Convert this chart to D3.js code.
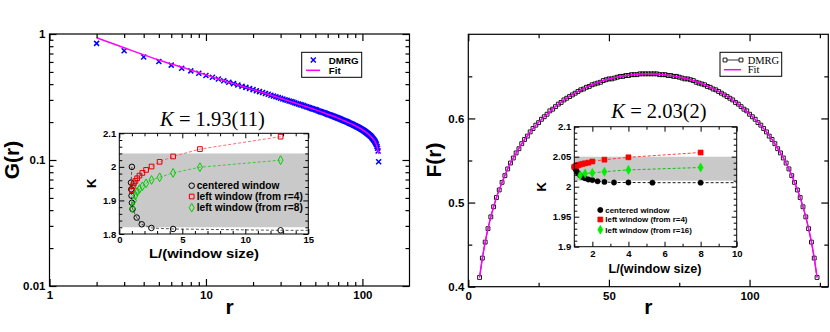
<!DOCTYPE html>
<html>
<head>
<meta charset="utf-8">
<script src="https://cdn.jsdelivr.net/npm/d3@7"></script>
<style>
  body { margin: 0; background: #fff; }
  svg { display: block; }
</style>
</head>
<body>
<div id="fig"></div>
<script>
// ---- Datos panel izquierdo: G(r) log-log ----
const rG = d3.range(2, 128)
const dmrgG = [0.843, 0.737, 0.656, 0.605, 0.566, 0.535, 0.510, 0.488, 0.469, 0.453,
  0.439, 0.426, 0.414, 0.404, 0.394, 0.385, 0.377, 0.369, 0.362, 0.355,
  0.349, 0.343, 0.337, 0.332, 0.327, 0.322, 0.318, 0.313, 0.309, 0.305,
  0.301, 0.298, 0.294, 0.291, 0.288, 0.284, 0.281, 0.278, 0.275, 0.273,
  0.270, 0.267, 0.265, 0.262, 0.260, 0.257, 0.255, 0.253, 0.251, 0.249,
  0.246, 0.244, 0.242, 0.240, 0.238, 0.237, 0.235, 0.233, 0.231, 0.229,
  0.228, 0.226, 0.224, 0.223, 0.221, 0.219, 0.218, 0.216, 0.215, 0.213,
  0.212, 0.210, 0.209, 0.207, 0.206, 0.204, 0.203, 0.202, 0.200, 0.199,
  0.197, 0.196, 0.195, 0.193, 0.192, 0.191, 0.189, 0.188, 0.187, 0.185,
  0.184, 0.183, 0.182, 0.180, 0.179, 0.178, 0.176, 0.175, 0.174, 0.172,
  0.171, 0.170, 0.168, 0.167, 0.165, 0.164, 0.162, 0.161, 0.159, 0.158,
  0.156, 0.155, 0.153, 0.151, 0.149, 0.147, 0.145, 0.143, 0.141, 0.138,
  0.135, 0.132, 0.128, 0.124, 0.118, 0.097]
const rFitG = [2, 3, 4, 5, 6, 7, 8, 10, 12, 15, 20, 25, 30, 40, 50, 60, 70, 80, 90, 100,
  105, 110, 115, 118, 120, 122, 124, 125, 126, 127]
const fitG = [0.935, 0.778, 0.683, 0.622, 0.578, 0.547, 0.518, 0.474, 0.440, 0.404,
  0.362, 0.332, 0.309, 0.275, 0.251, 0.231, 0.215, 0.200, 0.187, 0.174,
  0.167, 0.159, 0.151, 0.145, 0.141, 0.135, 0.128, 0.124, 0.118, 0.112]

// ---- Datos panel derecho: F(r) ----
const rF = d3.range(4, 125)
const dmrgF = [0.411, 0.434, 0.453, 0.469, 0.483, 0.495, 0.506, 0.515, 0.524, 0.532,
  0.540, 0.547, 0.553, 0.559, 0.564, 0.570, 0.575, 0.579, 0.584, 0.588,
  0.592, 0.595, 0.599, 0.602, 0.605, 0.609, 0.611, 0.614, 0.617, 0.619,
  0.622, 0.624, 0.626, 0.628, 0.630, 0.632, 0.634, 0.635, 0.637, 0.638,
  0.640, 0.641, 0.642, 0.643, 0.645, 0.646, 0.647, 0.647, 0.648, 0.649,
  0.650, 0.650, 0.651, 0.651, 0.652, 0.652, 0.652, 0.653, 0.653, 0.653,
  0.653, 0.653, 0.653, 0.653, 0.652, 0.652, 0.652, 0.651, 0.651, 0.650,
  0.650, 0.649, 0.648, 0.647, 0.647, 0.646, 0.645, 0.643, 0.642, 0.641,
  0.640, 0.638, 0.637, 0.635, 0.634, 0.632, 0.630, 0.628, 0.626, 0.624,
  0.622, 0.619, 0.617, 0.614, 0.611, 0.609, 0.605, 0.602, 0.599, 0.595,
  0.592, 0.588, 0.584, 0.579, 0.575, 0.570, 0.564, 0.559, 0.553, 0.547,
  0.540, 0.532, 0.524, 0.515, 0.506, 0.495, 0.483, 0.469, 0.453, 0.434,
  0.411]
const rFitF = [4, 5, 6, 7, 8, 10, 12, 14, 16, 20, 24, 28, 32, 40, 48, 56, 64, 72, 80, 88,
  96, 100, 104, 108, 112, 114, 116, 118, 120, 121, 122, 123, 124]
const fitF = [0.411, 0.434, 0.453, 0.469, 0.483, 0.506, 0.524, 0.540, 0.553, 0.575,
  0.592, 0.605, 0.617, 0.634, 0.645, 0.651, 0.653, 0.651, 0.645, 0.634,
  0.617, 0.605, 0.592, 0.575, 0.553, 0.540, 0.524, 0.506, 0.483, 0.469,
  0.453, 0.434, 0.411]

// ---- Recuadro izquierdo: K vs L/(window size) ----
const xCentL = [1.0, 0.93, 0.95, 0.97, 1.0, 1.05, 1.38, 1.78, 2.55, 4.27, 12.8]
const kCentL = [2.000, 1.953, 1.933, 1.914, 1.893, 1.874, 1.849, 1.829, 1.818, 1.815, 1.811]
const xLeft4L = [12.8, 6.4, 4.27, 3.2, 2.56, 2.13, 1.83, 1.6, 1.42, 1.28, 1.16, 1.07, 1.0]
const kLeft4L = [2.090, 2.053, 2.031, 2.015, 2.001, 1.991, 1.982, 1.974, 1.966, 1.958, 1.951, 1.942, 1.930]
const xLeft8L = [12.8, 6.4, 4.27, 3.2, 2.56, 2.13, 1.83, 1.6, 1.42, 1.28, 1.16, 1.03]
const kLeft8L = [2.020, 1.999, 1.982, 1.969, 1.961, 1.951, 1.942, 1.934, 1.926, 1.915, 1.900, 1.877]
const bandaL = [1.82, 2.04]   // K = 1.93(11)

// ---- Recuadro derecho ----
const xCentR = [8, 5.33, 4, 3.2, 2.67, 2.29, 2.0, 1.78, 1.6, 1.45, 1.33, 1.23, 1.14, 1.07, 1.0]
const kCentR = [2.0067, 2.0067, 2.007, 2.007, 2.008, 2.009, 2.011, 2.012, 2.014, 2.016, 2.019, 2.022, 2.025, 2.029, 2.033]
const xLeft4R = [8, 4, 2.67, 2.0, 1.78, 1.6, 1.45, 1.33, 1.23, 1.14, 1.07, 1.0]
const kLeft4R = [2.057, 2.049, 2.045, 2.042, 2.040, 2.039, 2.038, 2.037, 2.036, 2.035, 2.034, 2.033]
const xLeft16R = [8, 4, 2.67, 2.0, 1.6, 1.33]
const kLeft16R = [2.032, 2.028, 2.025, 2.023, 2.022, 2.019]
const bandaR = [2.01, 2.05]   // K = 2.03(2)

const fuente = "'Liberation Sans', Arial, Helvetica, sans-serif"
const serif = "'Liberation Serif', 'Times New Roman', serif"

const svg = d3.select("#fig").append("svg")
  .attr("width", 830).attr("height", 332)
  .attr("font-family", fuente)

const pares = (xs, ys) => xs.map((x, i) => [x, ys[i]])
const sym = (tipo, size) => d3.symbol().type(tipo).size(size)()

// ejes con marcas hacia dentro en los cuatro lados
function ejes(g, x, y, o) {
  const [x0, x1] = x.range()
  const [y1, y0] = y.range()
  const lados = [
    [d3.axisBottom, x, `translate(0,${y1})`, o.xMaj, o.xMin, o.xFmt, o.padX],
    [d3.axisTop, x, `translate(0,${y0})`, o.xMaj, o.xMin, null, 0],
    [d3.axisLeft, y, `translate(${x0},0)`, o.yMaj, o.yMin, o.yFmt, o.padY],
    [d3.axisRight, y, `translate(${x1},0)`, o.yMaj, o.yMin, null, 0]
  ]
  lados.forEach(([eje, s, tr, maj, min, fmt, pad]) => {
    const a = g.append("g").attr("transform", tr)
      .call(eje(s).tickValues(maj).tickSize(-o.tM).tickPadding(pad)
        .tickFormat(fmt ? fmt : () => ""))
    const b = g.append("g").attr("transform", tr)
      .call(eje(s).tickValues(min).tickSize(-o.tm).tickFormat(() => ""))
    ;[a, b].forEach(e => {
      e.select(".domain").remove()
      e.selectAll("line").attr("stroke-width", o.sw)
      e.attr("font-family", fuente).attr("font-size", o.fs).attr("font-weight", "bold")
    })
  })
  g.append("rect")
    .attr("x", x0).attr("y", y0)
    .attr("width", x1 - x0).attr("height", y1 - y0)
    .attr("fill", "none").attr("stroke", "#000").attr("stroke-width", o.sw)
}

function titulo(g, cx, y, valor, size) {
  const t = g.append("text")
    .attr("x", cx).attr("y", y)
    .attr("text-anchor", "middle")
    .attr("font-family", serif).attr("font-size", size)
  t.append("tspan").attr("font-style", "italic").text("K")
  t.append("tspan").text(" = " + valor)
}

function recuadro(g, x, y, series, banda, o) {
  const [x0, x1] = x.range()
  const [y1, y0] = y.range()
  g.append("rect").attr("x", x0).attr("y", y0)
    .attr("width", x1 - x0).attr("height", y1 - y0).attr("fill", "#fff")
  g.append("rect").attr("x", x0).attr("y", y(banda[1]))
    .attr("width", x1 - x0).attr("height", y(banda[0]) - y(banda[1]))
    .attr("fill", "#c9c9c9")

  const linea = d3.line().x(d => x(d[0])).y(d => y(d[1]))
  series.forEach(s => {
    const pts = pares(s.x, s.k)
    g.append("path").datum(pts)
      .attr("d", linea).attr("fill", "none")
      .attr("stroke", s.linea).attr("stroke-width", 0.9)
      .attr("stroke-dasharray", "3,2")
    if (s.extiende) {
      // la linea discontinua sigue hasta el borde derecho
      const ult = pts[pts.length - 1][0] > pts[0][0] ? pts[pts.length - 1] : pts[0]
      g.append("path").datum([ult, [x.domain()[1], ult[1]]])
        .attr("d", linea).attr("fill", "none")
        .attr("stroke", s.linea).attr("stroke-width", 0.9)
        .attr("stroke-dasharray", "3,2")
    }
  })
  series.forEach(s => {
    g.selectAll(null).data(pares(s.x, s.k)).join("path")
      .attr("transform", d => `translate(${x(d[0])},${y(d[1])})`)
      .attr("d", sym(s.tipo, s.size))
      .attr("fill", s.relleno ? s.color : "none")
      .attr("stroke", s.color).attr("stroke-width", s.relleno ? 0.5 : 1)
  })
  ejes(g, x, y, o)

  // leyenda
  series.forEach((s, i) => {
    const yy = o.leyY[i]
    g.append("path").attr("transform", `translate(${o.leyX},${yy})`)
      .attr("d", sym(s.tipo, s.size))
      .attr("fill", s.relleno ? s.color : "none")
      .attr("stroke", s.color)
      .attr("stroke-width", s.relleno ? 0.5 : 1)
    g.append("text").attr("x", o.leyX + 5).attr("y", yy + o.leyFs * 0.36)
      .attr("font-size", o.leyFs).attr("font-weight", "bold")
      .text(s.nombre)
  })
}

// =============== Panel izquierdo ===============
const gL = svg.append("g")
const xG = d3.scaleLog().domain([1, 200]).range([49.5, 409.5])
const yG = d3.scaleLog().domain([0.01, 1]).range([286, 34])

gL.selectAll("path.dmrg")
  .data(pares(rG, dmrgG))
  .join("path")
  .attr("class", "dmrg")
  .attr("transform", d => `translate(${xG(d[0])},${yG(d[1])})`)
  .attr("d", sym(d3.symbolTimes, 18))
  .attr("fill", "none").attr("stroke", "#0000ff").attr("stroke-width", 1.5)

gL.append("path").datum(pares(rFitG, fitG))
  .attr("d", d3.line().x(d => xG(d[0])).y(d => yG(d[1])).curve(d3.curveMonotoneX))
  .attr("fill", "none").attr("stroke", "#ff00ff").attr("stroke-width", 1.5)

ejes(gL, xG, yG, {
  xMaj: [1, 10, 100], xMin: [2, 3, 4, 5, 6, 7, 8, 9, 20, 30, 40, 50, 60, 70, 80, 90],
  yMaj: [0.01, 0.1, 1], yMin: [0.02, 0.03, 0.04, 0.05, 0.06, 0.07, 0.08, 0.09,
    0.2, 0.3, 0.4, 0.5, 0.6, 0.7, 0.8, 0.9],
  xFmt: d => String(d), yFmt: d => String(d),
  tM: 7, tm: 4, sw: 1.2, fs: 11.5, padX: 5, padY: 4
})

gL.append("text").attr("transform", "translate(19,160) rotate(-90)")
  .attr("text-anchor", "middle").attr("font-size", 21).attr("font-weight", "bold")
  .text("G(r)")
gL.append("text").attr("x", 229.5).attr("y", 314)
  .attr("text-anchor", "middle").attr("font-size", 21).attr("font-weight", "bold")
  .text("r")

// leyenda principal izquierda
const leyL = gL.append("g")
leyL.append("rect").attr("x", 301.7).attr("y", 52.3).attr("width", 60).attr("height", 25)
  .attr("fill", "#fff").attr("stroke", "#000").attr("stroke-width", 1)
leyL.append("path").attr("transform", "translate(313.3,60)")
  .attr("d", sym(d3.symbolTimes, 18))
  .attr("fill", "none").attr("stroke", "#0000ff").attr("stroke-width", 1.5)
leyL.append("text").attr("x", 328.7).attr("y", 63.5)
  .attr("font-size", 9.8).attr("font-weight", "bold").text("DMRG")
leyL.append("line").attr("x1", 306).attr("x2", 320).attr("y1", 70.3).attr("y2", 70.3)
  .attr("stroke", "#ff00ff").attr("stroke-width", 1.5)
leyL.append("text").attr("x", 328.7).attr("y", 74)
  .attr("font-size", 9.8).attr("font-weight", "bold").text("Fit")

// recuadro izquierdo
titulo(gL, 212.5, 126, "1.93(11)", 20.5)
const gIL = gL.append("g")
const xIL = d3.scaleLinear().domain([0, 15]).range([119.3, 308.3])
const yIL = d3.scaleLinear().domain([1.8, 2.1]).range([234, 133.3])
recuadro(gIL, xIL, yIL, [
  { x: xCentL, k: kCentL, tipo: d3.symbolCircle, size: 24, color: "#000", linea: "#444",
    relleno: false, nombre: "centered window", extiende: true },
  { x: xLeft4L, k: kLeft4L, tipo: d3.symbolSquare, size: 22, color: "#dd0000", linea: "#ff5a5a",
    relleno: false, nombre: "left window (from r=4)" },
  { x: xLeft8L, k: kLeft8L, tipo: d3.symbolDiamond, size: 22, color: "#00cc00", linea: "#33c433",
    relleno: false, nombre: "left window (from r=8)" }
], bandaL, {
  xMaj: [0, 5, 10, 15], xMin: [1, 2, 3, 4, 6, 7, 8, 9, 11, 12, 13, 14],
  yMaj: [1.8, 1.9, 2, 2.1],
  yMin: [1.82, 1.84, 1.86, 1.88, 1.92, 1.94, 1.96, 1.98, 2.02, 2.04, 2.06, 2.08],
  xFmt: d => String(d), yFmt: d => String(d),
  tM: 5, tm: 3, sw: 1, fs: 9.5, padX: 2.5, padY: 3,
  leyX: 191.7, leyY: [185.7, 196.5, 207.7], leyFs: 10.2
})
gIL.append("text").attr("transform", "translate(96,183.3) rotate(-90)")
  .attr("text-anchor", "middle").attr("font-size", 13).attr("font-weight", "bold").text("K")
gIL.append("text").attr("x", 204).attr("y", 258)
  .attr("text-anchor", "middle").attr("font-size", 13)
  .attr("font-weight", "bold")
  .attr("textLength", 110).attr("lengthAdjust", "spacingAndGlyphs")
  .text("L/(window size)")

// =============== Panel derecho ===============
const gR = svg.append("g")
const xF = d3.scaleLinear().domain([0, 128]).range([468.3, 828.3])
const yF = d3.scaleLinear().domain([0.4, 0.7]).range([286.7, 34.3])

gR.append("path").datum(pares(rF, dmrgF))
  .attr("d", d3.line().x(d => xF(d[0])).y(d => yF(d[1])))
  .attr("fill", "none").attr("stroke", "#000").attr("stroke-width", 0.8)
gR.selectAll("path.dmrg")
  .data(pares(rF, dmrgF))
  .join("path")
  .attr("class", "dmrg")
  .attr("transform", d => `translate(${xF(d[0])},${yF(d[1])})`)
  .attr("d", sym(d3.symbolSquare, 15))
  .attr("fill", "none").attr("stroke", "#000").attr("stroke-width", 0.9)
gR.append("path").datum(pares(rFitF, fitF))
  .attr("d", d3.line().x(d => xF(d[0])).y(d => yF(d[1])).curve(d3.curveMonotoneX))
  .attr("fill", "none").attr("stroke", "#ff00ff").attr("stroke-width", 1.5)

ejes(gR, xF, yF, {
  xMaj: [0, 50, 100], xMin: [25, 75, 125],
  yMaj: [0.4, 0.5, 0.6], yMin: [0.45, 0.55, 0.65],
  xFmt: d => String(d), yFmt: d => String(d),
  tM: 7, tm: 4, sw: 1.2, fs: 11.5, padX: 5, padY: 4
})

gR.append("text").attr("transform", "translate(441,160) rotate(-90)")
  .attr("text-anchor", "middle").attr("font-size", 21).attr("font-weight", "bold")
  .text("F(r)")
gR.append("text").attr("x", 648.3).attr("y", 314)
  .attr("text-anchor", "middle").attr("font-size", 21).attr("font-weight", "bold")
  .text("r")

// leyenda principal derecha
const leyR = gR.append("g")
leyR.append("rect").attr("x", 720).attr("y", 52.3).attr("width", 61.7).attr("height", 24)
  .attr("fill", "#fff").attr("stroke", "#000").attr("stroke-width", 1)
leyR.append("line").attr("x1", 725).attr("x2", 741).attr("y1", 60).attr("y2", 60)
  .attr("stroke", "#000").attr("stroke-width", 0.8)
;[725, 741].forEach(px => {
  leyR.append("path").attr("transform", `translate(${px},60)`)
    .attr("d", sym(d3.symbolSquare, 15))
    .attr("fill", "#fff").attr("stroke", "#000").attr("stroke-width", 0.9)
})
leyR.append("text").attr("x", 747.7).attr("y", 63.5)
  .attr("font-family", serif).attr("font-size", 10.5).text("DMRG")
leyR.append("line").attr("x1", 724).attr("x2", 741).attr("y1", 69.7).attr("y2", 69.7)
  .attr("stroke", "#ff00ff").attr("stroke-width", 1.5)
leyR.append("text").attr("x", 747.7).attr("y", 73.3)
  .attr("font-family", serif).attr("font-size", 10.5).text("Fit")

// recuadro derecho
titulo(gR, 659, 118, "2.03(2)", 20.5)
const gIR = gR.append("g")
const xIR = d3.scaleLinear().domain([1, 10]).range([574.3, 736.7])
const yIR = d3.scaleLinear().domain([1.9, 2.1]).range([246.7, 126.7])
recuadro(gIR, xIR, yIR, [
  { x: xCentR, k: kCentR, tipo: d3.symbolCircle, size: 22, color: "#000", linea: "#000",
    relleno: true, nombre: "centered window", extiende: true },
  { x: xLeft4R, k: kLeft4R, tipo: d3.symbolSquare, size: 26, color: "#ff0000", linea: "#ff2a2a",
    relleno: true, nombre: "left window (from r=4)" },
  { x: xLeft16R, k: kLeft16R, tipo: d3.symbolDiamond, size: 24, color: "#00ee00", linea: "#00bb00",
    relleno: true, nombre: "left window (from r=16)" }
], bandaR, {
  xMaj: [2, 4, 6, 8, 10], xMin: [1, 3, 5, 7, 9],
  yMaj: [1.9, 1.95, 2, 2.05, 2.1],
  yMin: [1.91, 1.92, 1.93, 1.94, 1.96, 1.97, 1.98, 1.99, 2.01, 2.02, 2.03, 2.04,
    2.06, 2.07, 2.08, 2.09],
  xFmt: d => String(d), yFmt: d => String(d),
  tM: 5, tm: 3, sw: 1, fs: 9.5, padX: 4, padY: 3,
  leyX: 600.3, leyY: [210, 219.5, 229.7], leyFs: 7.9
})
gIR.append("text").attr("transform", "translate(546,186.7) rotate(-90)")
  .attr("text-anchor", "middle").attr("font-size", 13).attr("font-weight", "bold").text("K")
gIR.append("text").attr("x", 655).attr("y", 273)
  .attr("text-anchor", "middle").attr("font-size", 12.6).attr("font-weight", "bold")
  .text("L/(window size)")
</script>
</body>
</html>
